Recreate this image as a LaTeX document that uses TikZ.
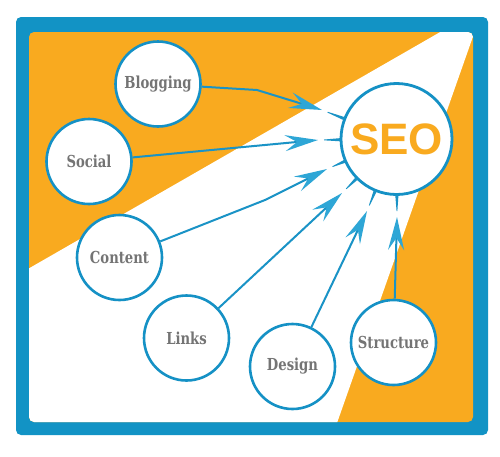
\documentclass[tikz,border=0pt]{standalone}
\usepackage{fontspec}
\usetikzlibrary{arrows.meta,calc}
\newfontfamily\labfont[FakeStretch=0.8]{DejaVu Serif}
\newfontfamily\seofont{Liberation Sans}
\definecolor{frameblue}{HTML}{1293C5}
\definecolor{circblue}{HTML}{1591C5}
\definecolor{lineblue}{HTML}{1A93C6}
\definecolor{tipblue}{HTML}{2EA6D6}
\definecolor{seoorange}{HTML}{F9AA1F}
\definecolor{labgray}{HTML}{747474}
\tikzset{
  topic/.style={circle, draw=circblue, line width=2.6pt, fill=white,
    minimum size=85pt, inner sep=0pt, text=labgray,
    font=\labfont\bfseries\fontsize{16.5}{19}\selectfont},
  seonode/.style={circle, draw=circblue, line width=2.8pt, fill=white,
    minimum size=111pt, inner sep=0pt, text=seoorange,
    font=\seofont\bfseries\fontsize{44}{48}\selectfont},
  conn/.style={draw=lineblue, line width=2pt, line join=round,
    -{Stealth[length=33pt,width=16pt,inset=12pt,color=tipblue]}},
}
\newcommand\seospike[1]{%
  \coordinate (g#1) at ($(#1)!6pt!(seo)$);
  \coordinate (a#1) at ($(seo)!56pt!(#1)$);
  \fill[lineblue] ($(a#1)!1.6pt!90:(g#1)$) -- ($(g#1)!0.4pt!-90:(a#1)$)
     -- ($(g#1)!0.4pt!90:(a#1)$) -- ($(a#1)!1.6pt!-90:(g#1)$) -- cycle;}
\begin{document}
\begin{tikzpicture}[x=1pt,y=-1pt]
\useasboundingbox (0,0) rectangle (500,456);
% frame
\fill[frameblue, rounded corners=5pt] (16,17) rectangle (488,435);
\fill[seoorange, rounded corners=5pt] (29,32) rectangle (473,422);
\begin{scope}
  \clip[rounded corners=5pt] (29,32) rectangle (473,422);
  \fill[white] (20,273.5) -- (442,31) -- (476,28) -- (337,423) -- (20,425) -- cycle;
\end{scope}
% nodes
\node[seonode] (seo) at (396.5,139) {SEO};
\node[topic] (blog) at (158,84) {Blogging};
\node[topic] (social) at (89,161.5) {Social};
\node[topic] (content) at (119.5,257.5) {Content};
\node[topic] (links) at (186.5,338) {Links};
\node[topic] (design) at (292.5,366.5) {Design};
\node[topic] (struct) at (393.5,342.5) {Structure};
% bend and tip coordinates
\coordinate (bblog) at (257,90);
\coordinate (tblog) at (322,110);
\coordinate (tsocial) at (318,140);
\coordinate (bcontent) at (265,200);
\coordinate (tcontent) at (327,169);
\coordinate (tlinks) at (342,193);
\coordinate (tdesign) at (367,211);
\coordinate (tstruct) at (397,217);
% connectors
\draw[conn] (blog) -- (bblog) -- (tblog);
\draw[conn] (social) -- (tsocial);
\draw[conn] (content) -- (bcontent) -- (tcontent);
\draw[conn] (links) -- (tlinks);
\draw[conn] (design) -- (tdesign);
\draw[conn] (struct) -- (tstruct);
% spikes at the SEO circle
\seospike{tblog}
\seospike{tsocial}
\seospike{tcontent}
\seospike{tlinks}
\seospike{tdesign}
\seospike{tstruct}
\end{tikzpicture}
\end{document}
